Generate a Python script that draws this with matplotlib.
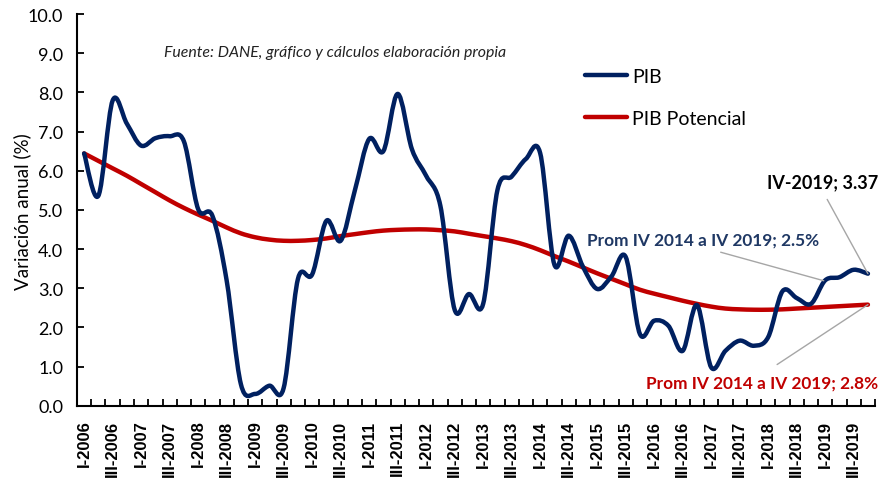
"""
PIB vs PIB potencial de Colombia, variacion anual trimestral 2006-2019.
"""

import matplotlib
matplotlib.use('Agg')
import matplotlib.pyplot as plt
import numpy as np
from matplotlib.path import Path
from matplotlib.patches import PathPatch
from matplotlib.lines import Line2D

# Quarters I-2006 ... IV-2019
years = list(range(2006, 2020))
quarterNames = ['I', 'II', 'III', 'IV']
quarters = [f'{q}-{y}' for y in years for q in quarterNames]

# PIB, variacion anual (%)
pib = [6.44, 5.36, 7.79, 7.20, 6.64, 6.83, 6.88, 6.75,
       5.02, 4.85, 3.20, 0.55, 0.30, 0.51, 0.45, 3.23,
       3.35, 4.72, 4.21, 5.50, 6.81, 6.50, 7.96, 6.55,
       5.87, 5.10, 2.45, 2.85, 2.60, 5.50, 5.85, 6.30,
       6.45, 3.60, 4.34, 3.55, 2.98, 3.30, 3.80, 1.83,
       2.17, 2.04, 1.40, 2.57, 0.98, 1.40, 1.66, 1.53,
       1.75, 2.92, 2.75, 2.60, 3.20, 3.28, 3.47, 3.37]

# PIB potencial (%)
pibPotencial = [6.44, 6.25, 6.06, 5.87, 5.66, 5.45, 5.24, 5.05,
                4.88, 4.72, 4.55, 4.40, 4.30, 4.24, 4.21, 4.21,
                4.23, 4.27, 4.33, 4.38, 4.43, 4.47, 4.49, 4.50,
                4.50, 4.48, 4.45, 4.39, 4.33, 4.27, 4.20, 4.10,
                3.97, 3.82, 3.68, 3.53, 3.38, 3.24, 3.10, 2.96,
                2.86, 2.77, 2.68, 2.60, 2.53, 2.48, 2.46, 2.45,
                2.45, 2.46, 2.48, 2.50, 2.52, 2.54, 2.56, 2.58]

BLUE = '#002060'
RED = '#C00000'
GREY = '#A6A6A6'


def smoothPath(x, y):
    # Excel style smoothed line: cubic bezier segments through every point
    pts = np.column_stack([x, y])
    p = np.vstack([pts[0], pts, pts[-1]])
    verts = [pts[0]]
    codes = [Path.MOVETO]
    for i in range(len(pts) - 1):
        p0, p1, p2, p3 = p[i], p[i + 1], p[i + 2], p[i + 3]
        verts += [p1 + (p2 - p0) / 6, p2 - (p3 - p1) / 6, p2]
        codes += [Path.CURVE4] * 3
    return Path(verts, codes)


def main():
    plt.rcParams['font.family'] = ['Lato', 'DejaVu Sans']

    fig = plt.figure(figsize=(8.83, 4.81), dpi=100)
    ax = fig.add_axes([0.0872, 0.1545, 0.9038, 0.8143])

    x = np.arange(len(quarters))
    for serie, color in [(pibPotencial, RED), (pib, BLUE)]:
        patch = PathPatch(smoothPath(x, serie), facecolor='none', edgecolor=color,
                          linewidth=3.2, capstyle='round', joinstyle='round')
        ax.add_patch(patch)

    ax.set_xlim(-0.5, len(quarters) - 0.5)
    ax.set_ylim(0, 10)

    # Axes
    for side in ['top', 'right']:
        ax.spines[side].set_visible(False)
    for side in ['left', 'bottom']:
        ax.spines[side].set_linewidth(1.5)

    ax.set_yticks(np.arange(0, 10.5, 1))
    ax.set_yticklabels([f'{v:.1f}' for v in np.arange(0, 10.5, 1)])
    ax.tick_params(axis='y', direction='in', length=5, width=1.3, pad=10, labelsize=13)
    ax.set_ylabel('Variación anual (%)', fontsize=13.5)
    ax.yaxis.set_label_coords(-0.057, 0.497)

    ax.set_xticks(np.arange(-0.5, len(quarters)), minor=True)
    ax.set_xticks(x[::2])
    ax.set_xticklabels(quarters[::2], rotation=90, fontweight='bold', fontsize=12,
                       family='Liberation Sans', va='top')
    ax.tick_params(axis='x', which='major', length=0, pad=10)
    ax.tick_params(axis='x', which='minor', direction='in', length=5, width=1.3)

    # Legend
    handles = [Line2D([], [], color=BLUE, linewidth=3.2, solid_capstyle='round'),
               Line2D([], [], color=RED, linewidth=3.2, solid_capstyle='round')]
    fig.legend(handles, ['PIB', 'PIB Potencial'], loc='upper left', bbox_to_anchor=(0.662, 0.857),
               frameon=False, fontsize=14, handlelength=2.2, handletextpad=0.25,
               labelspacing=1.3, borderpad=0, borderaxespad=0)

    # Source
    ax.text(0.109, 0.903, 'Fuente: DANE, gráfico y cálculos elaboración propia', transform=ax.transAxes,
            fontsize=11.4, style='italic', va='center', ha='left', color='#222222')

    # Annotations
    last = len(quarters) - 1
    ax.annotate(f'IV-{years[-1]}; {pib[-1]:.2f}', xy=(last, pib[-1]), xytext=(51.8, 5.71),
                fontsize=13, fontweight='bold', ha='center', va='center',
                arrowprops=dict(arrowstyle='-', color=GREY, lw=1, relpos=(0.5, 0),
                                shrinkA=5, shrinkB=0))
    ax.annotate('Prom IV 2014 a IV 2019; 2.5%', xy=(51.9, 3.19), xytext=(43.4, 4.25),
                fontsize=12.4, fontweight='bold', ha='center', va='center', color='#1F3864',
                arrowprops=dict(arrowstyle='-', color=GREY, lw=1, relpos=(0.5, 0),
                                shrinkA=6, shrinkB=0))
    ax.annotate('Prom IV 2014 a IV 2019; 2.8%', xy=(last, pibPotencial[-1]), xytext=(47.6, 0.6),
                fontsize=12.4, fontweight='bold', ha='center', va='center', color=RED,
                arrowprops=dict(arrowstyle='-', color=GREY, lw=1, relpos=(0.5, 1),
                                shrinkA=9, shrinkB=0))

    fig.savefig('out.png', dpi=100)


if __name__ == '__main__':
    main()
